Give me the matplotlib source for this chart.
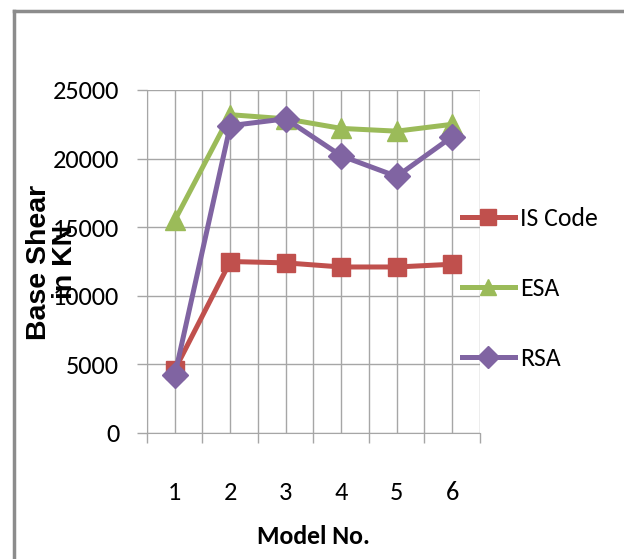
import matplotlib.pyplot as plt
from matplotlib.lines import Line2D
import numpy as np

models = [1, 2, 3, 4, 5, 6]
is_code = [4600, 12500, 12400, 12100, 12100, 12300]
esa = [15500, 23200, 22900, 22200, 22000, 22500]
rsa = [4200, 22400, 22900, 20200, 18700, 21600]

font = ['Carlito', 'DejaVu Sans']
grid_c = '#a6a6a6'

fig = plt.figure(figsize=(6.24, 5.59), dpi=100)
ax = fig.add_axes([147 / 624, 126 / 559, 333 / 624, 343 / 559])

ax.plot(models, is_code, color='#C0504D', lw=3.6, marker='s', ms=13, label='IS Code')
ax.plot(models, esa, color='#9BBB59', lw=3.6, marker='^', ms=15, label='ESA')
ax.plot(models, rsa, color='#8064A2', lw=3.6, marker='D', ms=13, label='RSA')

ax.set_xlim(0.5, 6.5)
ax.set_ylim(0, 25000)
ax.set_yticks(np.arange(0, 25001, 5000))
ax.set_xticks(np.arange(0.5, 6.6, 1.0))
ax.set_xticklabels([])
ax.set_xticks(models, minor=True)
ax.set_xticklabels([str(m) for m in models], minor=True, family=font, fontsize=19)
ax.tick_params(axis='x', which='minor', length=0, pad=34.5)
ax.tick_params(axis='x', which='major', length=7, width=1, color=grid_c, direction='out')
ax.tick_params(axis='y', length=7, width=1, color=grid_c, pad=13)
for lbl in ax.get_yticklabels():
    lbl.set_family(font)
    lbl.set_fontsize(19)

ax.grid(True, which='both', axis='x', color=grid_c, lw=1)
ax.grid(True, which='major', axis='y', color=grid_c, lw=1)
ax.set_axisbelow(True)
for side in ['top', 'right']:
    ax.spines[side].set_visible(False)
for side in ['left', 'bottom']:
    ax.spines[side].set_color(grid_c)

ax.set_xlabel('Model No.', family=font, fontsize=18.5, fontweight='bold', labelpad=15.5)
fig.text(52 / 624, 1 - 262 / 559, 'Base Shear\nin KN', rotation=90, ha='center', va='center',
         family='Liberation Sans', fontsize=20.5, fontweight='bold', linespacing=1.0)

leg = ax.legend(loc='center left', bbox_to_anchor=(0.946, 0.421), frameon=False,
                prop={'family': font, 'size': 18.5}, labelspacing=1.82,
                handlelength=2.05, handletextpad=0.2, borderaxespad=0, borderpad=0)
for h in leg.legend_handles:
    h.set_markersize(11)

# outer frame, top and left edges
frame_kw = dict(color='#8c8c8c', lw=2.5, transform=fig.transFigure)
fig.add_artist(Line2D([13.5 / 624, 1.0], [1 - 11 / 559, 1 - 11 / 559], **frame_kw))
fig.add_artist(Line2D([13.5 / 624, 13.5 / 624], [0.0, 1 - 11 / 559], **frame_kw))

fig.savefig('out.png', dpi=100)
